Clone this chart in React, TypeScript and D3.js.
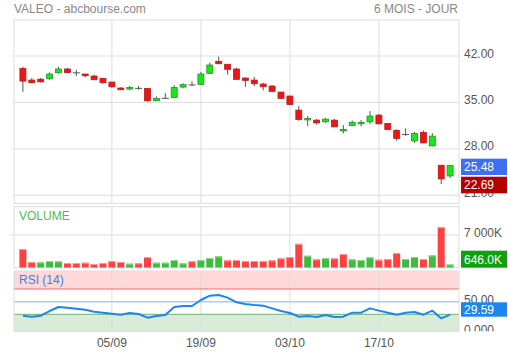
import React from "react";
import * as d3 from "d3";

// daily candles, VALEO, from 22/08
const opens = [40.11, 38.37, 38.5, 38.57, 39.48, 40.04, 39.46, 39.28, 38.98, 38.63, 38.07, 37.17, 37.02, 37.12, 37.12, 35.25, 35.62, 35.76, 37.32, 37.64, 37.73, 39.39, 41.2, 40.75, 40.04, 38.68, 38.37, 37.77, 37.47, 36.56, 35.96, 33.84, 32.38, 32.33, 32.08, 32.33, 30.72, 31.53, 31.83, 32.08, 33.09, 31.83, 30.78, 30.17, 29.21, 30.47, 28.45, 25.53, 23.92];
const highs = [40.38, 38.68, 38.7, 39.54, 40.38, 40.23, 39.93, 39.3, 39.17, 38.7, 38.1, 37.3, 37.47, 37.51, 37.15, 35.91, 36.41, 37.62, 37.88, 38.18, 39.58, 40.99, 41.9, 40.75, 40.23, 38.75, 38.83, 37.97, 37.62, 36.6, 36.0, 34.45, 32.94, 32.53, 32.68, 32.53, 31.58, 32.29, 32.33, 33.69, 33.24, 31.85, 30.97, 31.08, 30.56, 30.78, 30.37, 25.55, 25.55];
const lows = [36.6, 37.9, 38.0, 38.42, 39.33, 39.39, 38.98, 38.78, 38.37, 37.82, 37.2, 36.88, 36.86, 36.91, 35.1, 35.2, 35.58, 35.66, 37.12, 37.47, 37.62, 39.28, 40.75, 39.18, 38.4, 37.36, 37.47, 36.82, 36.6, 35.55, 34.6, 32.23, 31.43, 31.68, 31.92, 31.3, 30.32, 31.5, 31.38, 31.73, 31.7, 30.9, 29.21, 29.96, 28.9, 28.85, 28.4, 22.69, 23.62];
const closes = [38.22, 37.97, 38.1, 39.28, 40.04, 39.5, 39.46, 39.02, 38.42, 37.97, 37.36, 36.91, 37.27, 37.12, 35.25, 35.58, 35.62, 37.27, 37.68, 37.64, 39.28, 40.64, 40.84, 39.99, 38.48, 38.33, 37.82, 37.36, 36.67, 35.61, 34.7, 32.44, 32.59, 31.92, 32.48, 31.32, 30.93, 31.96, 32.0, 32.94, 31.77, 30.93, 29.57, 30.17, 30.32, 28.9, 29.92, 23.47, 25.48];
// volume in thousands
const volumes = [3960, 1180, 1100, 1390, 1320, 960, 960, 1030, 750, 960, 1390, 1180, 820, 890, 2250, 1030, 1030, 1600, 890, 1320, 1600, 2030, 2390, 1530, 1600, 1390, 1390, 1390, 1530, 1960, 2250, 5100, 2530, 1750, 2030, 1960, 2890, 1750, 1600, 2180, 1670, 1820, 3100, 1820, 2250, 1820, 2600, 8700, 646];
const rsi = [27.9, 26.3, 27.9, 35.2, 41.5, 40.5, 38.9, 37.3, 34.2, 32.6, 31.0, 29.4, 32.1, 30.5, 24.7, 27.3, 28.9, 41.5, 43.1, 43.1, 52.6, 59.4, 60.5, 56.3, 48.9, 46.3, 44.7, 43.7, 39.4, 35.2, 32.1, 26.3, 27.3, 25.8, 28.9, 25.8, 26.3, 32.6, 32.6, 39.4, 35.8, 32.6, 29.4, 32.6, 33.6, 29.4, 35.8, 23.6, 29.59];

const priceTicks = [21, 28, 35, 42];
const tickDates = ["05/09", "19/09", "03/10", "17/10"];
const lastPrice = 25.48;
const lowPrice = 22.69;
const lastVolume = "646.0K";

const W = 508;
const L = 14;
const R = 459;
const FONT = "'Liberation Sans', Arial, sans-serif";
const GRID = "#dddddd";

// trading days from 22/08/2025
const days = d3.timeDay
  .range(new Date(2025, 7, 22), new Date(2025, 11, 31))
  .filter((d) => d.getDay() !== 0 && d.getDay() !== 6)
  .slice(0, opens.length);
const fmt = d3.timeFormat("%d/%m");
const dayLabels = days.map(fmt);

export default function App() {
  const n = opens.length;
  const x = d3.scaleLinear().domain([-1, n]).range([L, R]);
  const yP = d3.scaleLinear().domain([21, 42]).range([195.3, 56]);
  const yV = d3.scaleLinear().domain([0, 7000]).range([267.5, 235]);
  const yR = d3.scaleLinear().domain([0, 100]).range([333.3, 270]);

  const priceTop = 20, priceBot = 203.3;
  const volTop = 206.7, volBot = 267.7;
  const rsiTop = 271, rsiBot = 331.3;

  const tickIdx = tickDates.map((t) => dayLabels.indexOf(t));

  const rsiLine = d3
    .line<number>()
    .x((_, i) => x(i))
    .y((d) => yR(d));

  const vgrid = (y0: number, y1: number) =>
    tickIdx.map((i) => (
      <line key={i} x1={x(i)} x2={x(i)} y1={y0} y2={y1} stroke={GRID} />
    ));

  const box = (y: number, h: number, fill: string, label: string) => (
    <g>
      <rect x={461} y={y} width={46} height={h} fill={fill} />
      <text x={464} y={y + h / 2 + 4.3} fill="#fff" fontSize={12}>
        {label}
      </text>
    </g>
  );

  return (
    <svg
      width={W}
      height={353}
      style={{ position: "absolute", left: 0, top: 0, background: "#fff" }}
      fontFamily={FONT}
    >
      <defs>
        <clipPath id="rsiClip">
          <rect x={0} y={rsiTop} width={W} height={rsiBot - rsiTop} />
        </clipPath>
      </defs>

      <text x={L} y={13} fontSize={12} fill="#888">VALEO - abcbourse.com</text>
      <text x={458} y={13} fontSize={12} fill="#888" textAnchor="end">6 MOIS - JOUR</text>

      {/* price panel */}
      <rect x={L} y={priceTop} width={R - L} height={priceBot - priceTop} fill="#fff" stroke={GRID} />
      {priceTicks.map((p) => (
        <g key={p}>
          <line x1={L} x2={R} y1={yP(p)} y2={yP(p)} stroke={GRID} />
          <text x={464} y={yP(p) + 1.5} fontSize={12} fill="#555">{p.toFixed(2)}</text>
        </g>
      ))}
      {vgrid(priceTop, priceBot)}
      {opens.map((o, i) => {
        const c = closes[i];
        const cx = x(i);
        if (o === c) {
          return (
            <g key={i} stroke="#555">
              <line x1={cx} x2={cx} y1={yP(highs[i])} y2={yP(lows[i])} />
              <line x1={cx - 3.5} x2={cx + 3.5} y1={yP(o)} y2={yP(o)} />
            </g>
          );
        }
        const up = c > o;
        const top = yP(Math.max(o, c));
        const h = Math.max(1.5, yP(Math.min(o, c)) - top);
        return (
          <g key={i}>
            <line x1={cx} x2={cx} y1={yP(highs[i])} y2={yP(lows[i])} stroke="#555" />
            <rect
              x={cx - 3}
              y={top}
              width={6}
              height={h}
              fill={up ? "#18e818" : "#f01414"}
              stroke={up ? "#2a8f2a" : "#b02020"}
              strokeWidth={0.8}
            />
          </g>
        );
      })}
      {box(158.7, 16.3, "#3c6ff5", lastPrice.toFixed(2))}
      {box(176.7, 16.6, "#b30000", lowPrice.toFixed(2))}

      {/* volume panel */}
      <rect x={L} y={volTop} width={R - L} height={volBot - volTop} fill="#fff" stroke={GRID} />
      <line x1={L - 4} x2={R} y1={yV(7000)} y2={yV(7000)} stroke={GRID} />
      {vgrid(volTop, volBot)}
      <text x={19} y={220} fontSize={12} fill="#4cbb4c">VOLUME</text>
      <text x={464} y={236.5} fontSize={12} fill="#555">7 000K</text>
      {volumes.map((v, i) => {
        const up = i === 0 ? false : closes[i] > closes[i - 1];
        const top = yV(v);
        return (
          <g key={i}>
            <rect x={x(i) - 3.5} y={top} width={7} height={yV(0) - top} fill={up ? "#3fbb3f" : "#ff4040"} />
            <rect x={x(i) - 3.5} y={top} width={7} height={1} fill={up ? "#8fdc8f" : "#ff9a9a"} />
          </g>
        );
      })}
      {box(250.7, 17, "#0ea10e", lastVolume)}

      {/* RSI panel */}
      <rect x={L} y={rsiTop} width={R - L} height={rsiBot - rsiTop} fill="#fff" />
      <rect x={L} y={rsiTop} width={R - L} height={yR(70) - rsiTop} fill="#ffd9d9" />
      <rect x={L} y={yR(30)} width={R - L} height={rsiBot - yR(30)} fill="#d9ecd9" />
      {vgrid(rsiTop, rsiBot)}
      <line x1={L} x2={R} y1={yR(70)} y2={yR(70)} stroke="#f26a6a" />
      <line x1={L} x2={R} y1={yR(50)} y2={yR(50)} stroke="#a6cdfa" strokeWidth={1.5} />
      <line x1={L} x2={R} y1={yR(30)} y2={yR(30)} stroke="#6fae6f" />
      <rect x={L} y={rsiTop} width={R - L} height={rsiBot - rsiTop} fill="none" stroke={GRID} />
      <text x={19} y={284} fontSize={12} fill="#2f86e8">RSI (14)</text>
      <g clipPath="url(#rsiClip)">
        <text x={464} y={yR(50) + 2.5} fontSize={12} fill="#555">50.00</text>
        <text x={464} y={yR(0) + 0.5} fontSize={12} fill="#555">0.000</text>
      </g>
      <path d={rsiLine(rsi) ?? ""} fill="none" stroke="#1a86ee" strokeWidth={2} strokeLinejoin="round" />
      {box(302.3, 14.4, "#1a86ee", rsi[rsi.length - 1].toFixed(2))}

      {/* dates */}
      {tickIdx.map((i, k) => (
        <text key={k} x={x(i)} y={346.5} fontSize={12} fill="#555" textAnchor="middle">
          {tickDates[k]}
        </text>
      ))}
    </svg>
  );
}
